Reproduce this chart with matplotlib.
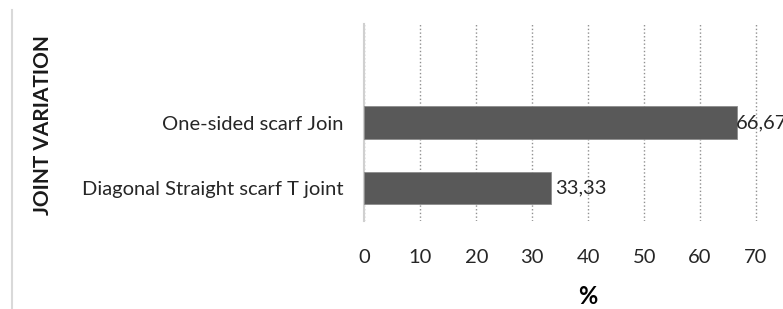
import matplotlib.pyplot as plt
from matplotlib.lines import Line2D

categories = ['Diagonal Straight scarf T joint', 'One-sided scarf Join']
values = [33.33, 66.67]
value_labels = ['33,33', '66,67']
x_ticks = [0, 10, 20, 30, 40, 50, 60, 70]

plt.rcParams['font.family'] = ['Lato', 'DejaVu Sans']

fig = plt.figure(figsize=(7.83, 3.09), dpi=100)
ax = fig.add_axes([0.4655, 0.2848, 0.5715, 0.6375])

ax.barh(range(len(categories)), values, height=0.49, color='#595959',
        edgecolor='#8c8c8c', linewidth=0.6, zorder=3)

ax.set_xlim(0, 80)
ax.set_ylim(-0.5, 2.5)
ax.set_yticks(range(len(categories)))
ax.set_yticklabels(categories, fontsize=14.5, color='#262626')
ax.set_xticks(x_ticks)
ax.set_xticklabels([str(t) for t in x_ticks], fontsize=14.5, color='#262626')
ax.tick_params(length=0)
ax.tick_params(axis='x', pad=20)
ax.tick_params(axis='y', pad=15)

for s in ['top', 'right', 'bottom']:
    ax.spines[s].set_visible(False)
ax.spines['left'].set_color('#d0d0d0')
ax.spines['left'].set_linewidth(1.5)

ax.grid(axis='x', linestyle=':', color='#909090', linewidth=1, zorder=0)

# value labels, Excel style
pads = [3, -1]
for i, (v, lab) in enumerate(zip(values, value_labels)):
    ax.annotate(lab, (v, i), xytext=(pads[i], 0), textcoords='offset points',
                va='center', ha='left', fontsize=14.5, color='#262626', zorder=4)

ax.set_xlabel('%', fontsize=17, fontweight='bold', labelpad=14)
fig.text(0.055, 0.595, 'JOINT VARIATION', rotation=90, fontsize=15,
         fontweight='bold', ha='center', va='center', color='#1a1a1a')

# outer border line on the left
fig.add_artist(Line2D([0.0155, 0.0155], [0, 0.968], transform=fig.transFigure,
                      color='#d9d9d9', linewidth=1.5))

fig.savefig('out.png', dpi=100)
